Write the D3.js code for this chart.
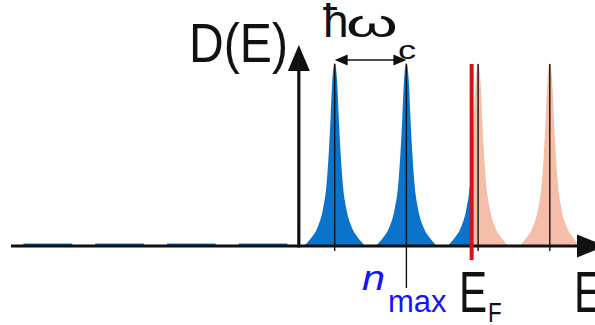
<!DOCTYPE html>
<html>
<head>
<meta charset="utf-8">
<script src="https://cdn.jsdelivr.net/npm/d3@7"></script>
<style>
  html, body { margin: 0; padding: 0; background: #fff; }
  svg { display: block; }
  text { font-family: "Liberation Sans", Arial, sans-serif; }
</style>
</head>
<body>
<svg id="chart" width="595" height="325"></svg>
<script>
// Landau levels (energies in units of ħω_c) and their density-of-states peaks
const levelEnergy = [0.5, 1.5, 2.5, 3.5];
const levelHeight = [1, 1, 1, 1];
// empty levels below the band edge, shown as flat segments on the axis
const emptyLevelEnergy = [-3.5, -2.5, -1.5, -0.5];
const emptyLevelHalfWidth = 0.34;
// Fermi energy
const fermiEnergy = 2.41;
// level index marked as n_max
const nMaxLevel = 1;
// shape of one broadened peak: offset from centre (ħω_c) and relative height
const profileOffset = [0, 0.035, 0.056, 0.081, 0.113, 0.165, 0.235, 0.315, 0.39, 0.43];
const profileHeight = [1, 0.89, 0.71, 0.52, 0.34, 0.20, 0.105, 0.05, 0.015, 0];

const W = 595, H = 325;
const BLUE = "#0a74cc", SALMON = "#f4bea8", RED = "#d4121c", INK = "#111";

const svg = d3.select("#chart");

const x = d3.scaleLinear().domain([-4, 4.2]).range([12, 600]);
const y = d3.scaleLinear().domain([0, 1]).range([246, 63]);

// full symmetric profile for a level
function peakPoints(c, h) {
  const pts = [];
  for (let i = profileOffset.length - 1; i > 0; i--) pts.push([c - profileOffset[i], h * profileHeight[i]]);
  for (let i = 0; i < profileOffset.length; i++) pts.push([c + profileOffset[i], h * profileHeight[i]]);
  return pts;
}

const area = d3.area()
  .x(d => x(d[0]))
  .y0(y(0))
  .y1(d => y(d[1]))
  .curve(d3.curveMonotoneX);

const defs = svg.append("defs");
defs.append("clipPath").attr("id", "filled")
  .append("rect").attr("x", 0).attr("y", 0).attr("width", x(fermiEnergy)).attr("height", H);
defs.append("clipPath").attr("id", "empty")
  .append("rect").attr("x", x(fermiEnergy)).attr("y", 0).attr("width", W - x(fermiEnergy)).attr("height", H);

const peaks = svg.append("g");
levelEnergy.forEach((c, i) => {
  const d = area(peakPoints(c, levelHeight[i]));
  peaks.append("path").attr("d", d).attr("fill", SALMON).attr("clip-path", "url(#empty)");
  peaks.append("path").attr("d", d).attr("fill", BLUE).attr("clip-path", "url(#filled)");
});

// empty levels below the band edge
svg.append("g").selectAll("line").data(emptyLevelEnergy).join("line")
  .attr("x1", d => x(d - emptyLevelHalfWidth))
  .attr("x2", d => x(d + emptyLevelHalfWidth))
  .attr("y1", y(0) - 1.5).attr("y2", y(0) - 1.5)
  .attr("stroke", BLUE).attr("stroke-width", 2.2);

// centre line of each level
svg.append("g").selectAll("line").data(levelEnergy).join("line")
  .attr("x1", d => x(d)).attr("x2", d => x(d))
  .attr("y1", (d, i) => y(levelHeight[i]) + 1)
  .attr("y2", (d, i) => i === nMaxLevel ? 288 : y(0) + 5)
  .attr("stroke", INK).attr("stroke-width", 1.4);

// energy axis
const ax = svg.append("g");
ax.append("line")
  .attr("x1", 11).attr("x2", 582).attr("y1", y(0)).attr("y2", y(0))
  .attr("stroke", INK).attr("stroke-width", 3.2);
ax.append("path")
  .attr("d", `M577,${y(0) - 11.5} L606,${y(0)} L577,${y(0) + 11.5} Z`)
  .attr("fill", INK);

// density-of-states axis
ax.append("line")
  .attr("x1", x(0)).attr("x2", x(0)).attr("y1", y(0) + 1.5).attr("y2", 66)
  .attr("stroke", INK).attr("stroke-width", 3.2);
ax.append("path")
  .attr("d", `M${x(0) - 11},71 L${x(0)},45 L${x(0) + 11},71 Z`)
  .attr("fill", INK);

// Fermi level
svg.append("line")
  .attr("x1", x(fermiEnergy)).attr("x2", x(fermiEnergy))
  .attr("y1", 64).attr("y2", 260)
  .attr("stroke", RED).attr("stroke-width", 4);

// ħω_c spacing arrow
const arrY = 60;
const ax0 = x(levelEnergy[0]), ax1 = x(levelEnergy[1]);
svg.append("line")
  .attr("x1", ax0 + 8).attr("x2", ax1 - 8).attr("y1", arrY).attr("y2", arrY)
  .attr("stroke", INK).attr("stroke-width", 1.6);
svg.append("path")
  .attr("d", `M${ax0},${arrY} L${ax0 + 13},${arrY - 5.5} L${ax0 + 13},${arrY + 5.5} Z M${ax1},${arrY} L${ax1 - 13},${arrY - 5.5} L${ax1 - 13},${arrY + 5.5} Z`)
  .attr("fill", INK);

// text labels
function label(str, px, py, size, sx, opts = {}) {
  return svg.append("text")
    .attr("transform", `translate(${px},${py}) scale(${sx},1)`)
    .attr("font-size", size)
    .attr("fill", opts.fill || INK)
    .attr("font-style", opts.italic ? "italic" : "normal")
    .text(str);
}

label("D(E)", 189, 62, 56, 0.86);
label("ħ", 323, 37, 46, 1);
label("ω", 346, 37, 38, 1.75);
label("c", 398, 59, 25, 1.45);
label("n", 362, 290, 36, 1.15, { fill: "#1414ff", italic: true });
label("max", 388, 312, 31, 1, { fill: "#1414ff" });
label("E", 459, 312, 57, 0.74);
label("F", 488, 322, 28, 0.8);
label("E", 574, 312, 57, 0.74);
</script>
</body>
</html>
